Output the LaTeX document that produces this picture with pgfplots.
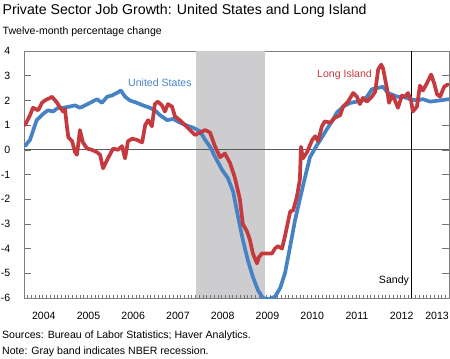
\documentclass[border=0pt]{standalone}
\usepackage{pgfplots}
\pgfplotsset{compat=1.18}
\usepackage{pgfplotstable}
\usepackage{fontspec}
\setmainfont{Liberation Sans}
\definecolor{usblue}{RGB}{70,130,196}
\definecolor{lired}{RGB}{196,58,62}
\definecolor{recgray}{RGB}{205,205,208}
\pgfplotstableread{
m v
1.3 0.16
2.6 0.4
4.4 1.2
6.1 1.45
7.4 1.6
8.8 1.55
10.1 1.7
11.5 1.7
13.3 1.75
14.7 1.8
16.0 1.7
17.4 1.8
18.7 1.9
20.6 2.05
21.9 1.9
23.3 2.15
24.6 2.2
25.9 2.3
27.0 2.4
28.1 2.15
29.4 2.0
31.3 1.9
32.9 1.8
34.8 1.7
36.1 1.6
37.5 1.4
39.4 1.2
41.0 1.25
42.8 1.1
44.7 0.98
46.3 0.9
48.2 0.75
49.6 0.4
51.0 0.1
52.2 -0.27
54.1 -0.8
55.7 -1.15
57.1 -1.7
58.4 -2.7
59.7 -3.65
61.1 -4.5
62.4 -5.15
63.8 -5.7
65.1 -6.0
66.5 -6.05
68.3 -5.95
69.7 -5.6
71.0 -5.0
72.4 -3.9
73.7 -2.85
75.0 -2.0
76.4 -1.1
77.7 -0.3
79.6 0.2
80.9 0.5
82.3 0.85
83.6 1.15
84.9 1.5
86.6 1.75
88.5 1.9
90.3 1.95
91.9 2.0
93.0 2.15
94.3 2.45
95.7 2.5
97.3 2.55
98.6 2.3
101.1 2.15
102.7 2.15
104.5 2.05
106.4 2.0
108.0 2.05
109.9 1.95
112.6 2.0
115 2.05
}\usdata
\pgfplotstableread{
m v
1.3 1.0
2.6 1.4
3.4 1.7
4.8 1.6
5.8 1.9
6.6 2.0
8.0 2.1
8.5 2.15
9.9 1.9
10.7 1.7
11.5 1.55
12.0 1.65
12.5 0.95
12.9 0.5
13.9 0.35
14.7 -0.1
15.2 -0.2
16.0 0.8
16.8 0.3
17.9 0.05
19.2 0.0
20.6 -0.1
21.4 -0.2
22.2 -0.75
23.5 -0.35
24.9 0.05
26.2 0.0
27.3 0.15
28.1 -0.35
28.9 0.35
30.0 0.45
31.3 0.4
32.7 0.3
33.5 1.0
34.3 1.2
35.3 0.95
36.1 1.85
36.9 1.95
38.0 1.8
38.8 1.55
39.6 1.85
40.7 1.75
41.5 1.35
42.8 1.2
44.2 1.0
45.5 0.8
46.9 0.6
48.2 0.7
49.6 0.8
50.9 0.7
52.2 0.15
53.6 -0.3
54.9 -0.15
56.3 -0.55
57.6 -1.15
58.9 -2.0
59.7 -3.0
60.8 -3.3
61.6 -3.65
62.4 -4.2
63.5 -4.6
64.0 -4.35
64.8 -4.2
66.2 -4.2
67.5 -4.2
68.3 -4.0
69.1 -3.9
70.2 -4.0
71.0 -3.5
72.4 -2.5
73.2 -2.45
74.2 -1.9
75.0 -1.2
75.3 0.12
75.8 -0.35
76.9 -0.1
78.3 0.4
79.1 0.55
79.9 0.35
80.9 0.95
81.7 1.15
83.1 1.1
84.4 1.3
85.8 1.4
86.6 1.75
87.9 1.95
89.3 2.3
90.3 2.15
91.1 1.85
91.9 2.1
93.0 1.95
94.3 2.15
95.2 2.35
96.0 3.25
96.8 3.45
97.3 3.3
98.4 2.45
98.9 1.9
99.7 2.2
100.5 2.0
101.3 1.7
102.4 2.2
103.2 2.15
104.0 2.3
104.8 2.0
105.3 1.55
106.4 1.75
107.2 2.6
108.0 2.4
109.1 2.7
110.2 3.05
111.0 2.7
111.8 2.25
112.6 2.15
113.7 2.55
114.7 2.65
}\lidata
\begin{document}
\begin{tikzpicture}
\begin{axis}[
  name=ax,
  scale only axis,
  width=425bp, height=247bp,
  xmin=1, xmax=115, ymin=-6, ymax=4,
  axis line style={draw=black!50, line width=0.8bp},
  tick style={black!55, line width=0.6bp},
  tick align=inside,
  ytick={-6,-5,-4,-3,-2,-1,0,1,2,3,4},
  yticklabels={-6,-5,-4,-3,-2,-1,0,1,2,3,4},
  ytick pos=both,
  major tick length=7bp,
  xtick={6.3,18.3,30.3,42.3,54.3,66.3,78.3,90.3,102.3,111.8},
  xticklabels={2004,2005,2006,2007,2008,2009,2010,2011,2012,2013},
  xtick style={draw=none},
  xtick pos=bottom,
  yticklabel style={font=\fontsize{10.6}{12}\selectfont, anchor=east, inner sep=0pt, xshift=-13.5bp},
  xticklabel style={font=\fontsize{10.6}{12}\selectfont, anchor=base, inner sep=0pt, yshift=-21bp},
  clip=true,
]
\fill[recgray] (axis cs:47.1,-6) rectangle (axis cs:65.6,4);
\pgfplotsinvokeforeach{1,2,...,115}{\draw[black!55, line width=0.6bp] (axis cs:#1,-6) -- ++(0pt,3.5bp);}
\draw[black!65, line width=1.1bp] (axis cs:1,0) -- (axis cs:115,0);
\draw[black, line width=1bp] (axis cs:105,-6) -- (axis cs:105,4);
\addplot[usblue, line width=3.7bp, line join=round, line cap=round, no markers] table[x=m,y=v] {\usdata};
\addplot[lired, line width=3.7bp, line join=round, line cap=round, no markers] table[x=m,y=v] {\lidata};
\node[anchor=west, inner sep=0pt, text=usblue, font=\fontsize{10.6}{12}\selectfont] at (axis cs:28.9,2.71) {United States};
\node[anchor=west, inner sep=0pt, text=lired, font=\fontsize{10.6}{12}\selectfont] at (axis cs:79.6,3.04) {Long Island};
\node[anchor=east, inner sep=0pt, font=\fontsize{10.6}{12}\selectfont] at (axis cs:104.3,-5.3) {Sandy};
\end{axis}
\pgfresetboundingbox
\begin{scope}[shift={(ax.south west)}, x=1bp, y=1bp]
\path[use as bounding box] (-24,-60) rectangle (426,298);
\node[anchor=base west, inner sep=0pt, font=\fontsize{14.2}{16}\selectfont] at (-21.5,284) {Private Sector Job Growth: United States and Long Island};
\node[anchor=base west, inner sep=0pt, font=\fontsize{10.6}{12}\selectfont] at (-21.5,263.5) {Twelve-month percentage change};
\node[anchor=base west, inner sep=0pt, font=\fontsize{10.6}{12}\selectfont] at (-22,-40) {Sources: Bureau of Labor Statistics; Haver Analytics.};
\node[anchor=base west, inner sep=0pt, font=\fontsize{10.6}{12}\selectfont] at (-22,-56.5) {Note: Gray band indicates NBER recession.};
\end{scope}
\end{tikzpicture}
\end{document}
